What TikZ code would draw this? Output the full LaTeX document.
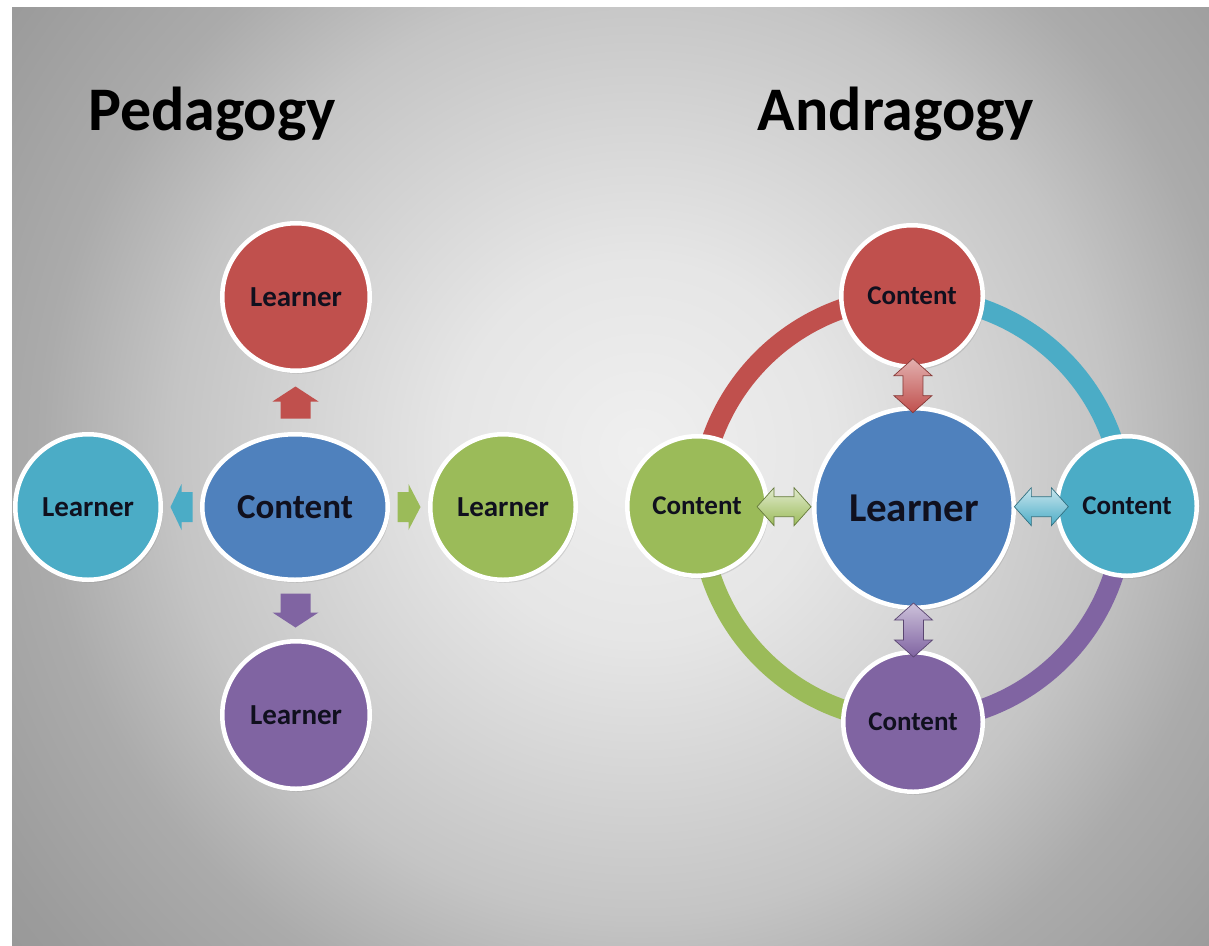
\documentclass[tikz,border=0pt]{standalone}
\usepackage{fontspec}
\setmainfont{Carlito}
\usetikzlibrary{calc,shadows,shapes.geometric}
\definecolor{ored}{HTML}{C0504D}
\definecolor{oblue}{HTML}{4F81BD}
\definecolor{ogreen}{HTML}{9BBB59}
\definecolor{ocyan}{HTML}{4BACC6}
\definecolor{opurple}{HTML}{8064A2}
\definecolor{txt}{HTML}{10101E}
\pgfdeclareradialshading{bgshade}{\pgfpoint{0bp}{0bp}}{color(0bp)=(black!6); color(6bp)=(black!10); color(14.6bp)=(black!23); color(18.7bp)=(black!33); color(23.7bp)=(black!39); color(25bp)=(black!40); color(50bp)=(black!40)}
\tikzset{
  pics/sarr/.style n args={2}{code={
    \path[pic actions] (-#1/2,-15) -- (#1/2-#2,-15) -- (#1/2-#2,-23) -- (#1/2,0)
      -- (#1/2-#2,23) -- (#1/2-#2,15) -- (-#1/2,15) -- cycle;}},
  pics/darr/.style n args={2}{code={
    \path[pic actions] (-#1/2,0) -- (-#1/2+#2,-19) -- (-#1/2+#2,-10) -- (#1/2-#2,-10)
      -- (#1/2-#2,-19) -- (#1/2,0) -- (#1/2-#2,19) -- (#1/2-#2,10) -- (-#1/2+#2,10)
      -- (-#1/2+#2,19) -- cycle;}},
}
\begin{document}
\begin{tikzpicture}[x=1pt,y=-1pt,
  bubble/.style={circle, draw=white, line width=4.5pt, inner sep=0pt, text=txt,
    drop shadow={opacity=0.25, shadow xshift=2pt, shadow yshift=-3pt}},
  title/.style={font=\fontsize{62}{62}\selectfont\bfseries, anchor=base, text=black},
  fsmall/.style={font=\fontsize{29}{29}\selectfont\bfseries},
  fsat/.style={font=\fontsize{27}{27}\selectfont\bfseries},
  ring/.style={line width=20pt},
  sa/.style={draw=none},
  da/.style={line width=0.7pt}]
\useasboundingbox (0,0) rectangle (1209,945);
\fill[white] (0,0) rectangle (1209,945);
\begin{scope}
  \clip (12,7) rectangle (1220,960);
  \shade[shading=bgshade] (-160,-350) rectangle (1440,1250);
\end{scope}

% titles
\node[title] (ped) at (212,130) {Pedagogy};
\node[title] (andr) at (896,130) {Andragogy};

% ---- Pedagogy ----
\node[bubble, ellipse, fill=oblue, minimum width=185.5pt, minimum height=145.5pt,
  font=\fontsize{35}{35}\selectfont\bfseries] (pc) at (295,507) {Content};
\node[bubble, fill=ored, minimum size=147.5pt, fsmall] (pt) at (296,297) {Learner};
\node[bubble, fill=ocyan, minimum size=145.5pt, fsmall] (pl) at (88,507) {Learner};
\node[bubble, fill=ogreen, minimum size=145.5pt, fsmall] (pr) at (503,507) {Learner};
\node[bubble, fill=opurple, minimum size=147.5pt, fsmall] (pb) at (296,715) {Learner};

\pic[sa, fill=ored, rotate=90] at ($(pc.north)!0.5!(pt.south)$) {sarr={32}{15}};
\pic[sa, fill=ocyan, rotate=180] at ($(pc.west)!0.5!(pl.east)$) {sarr={22}{11}};
\pic[sa, fill=ogreen] at ($(pc.east)!0.5!(pr.west)$) {sarr={23}{12}};
\pic[sa, fill=opurple, rotate=-90] at ($(pc.south)!0.5!(pb.north)$) {sarr={34}{15}};

% ---- Andragogy ----
\coordinate (rc) at (912,509);
\draw[ring, ored]    ($(rc)+(180:212)$) arc[start angle=180, end angle=270, radius=212];
\draw[ring, ocyan]   ($(rc)+(270:212)$) arc[start angle=270, end angle=360, radius=212];
\draw[ring, opurple] ($(rc)+(0:212)$)   arc[start angle=0,   end angle=90,  radius=212];
\draw[ring, ogreen]  ($(rc)+(90:212)$)  arc[start angle=90,  end angle=180, radius=212];

\node[bubble, fill=oblue, minimum size=199.5pt,
  font=\fontsize{41}{41}\selectfont\bfseries] (al) at (914,508) {Learner};
\node[bubble, fill=ored, minimum size=141.5pt, fsat] (at) at (912,296) {Content};
\node[bubble, fill=ogreen, minimum size=139.5pt, fsat] (agl) at (697,506) {Content};
\node[bubble, fill=ocyan, minimum size=139.5pt, fsat] (acr) at (1127,506) {Content};
\node[bubble, fill=opurple, minimum size=139.5pt, fsat] (apb) at (913,722) {Content};

\pic[da, draw=ored!70!black, top color=ored!45!white, bottom color=ored, rotate=90]
  at ($(at.south)!0.45!(al.north)$) {darr={54}{17}};
\pic[da, draw=ogreen!65!black, top color=ogreen!30!white, bottom color=ogreen]
  at ($(agl.east)!0.35!(al.west)$) {darr={54}{17}};
\pic[da, draw=ocyan!65!black, top color=ocyan!30!white, bottom color=ocyan]
  at ($(al.east)!0.65!(acr.west)$) {darr={54}{17}};
\pic[da, draw=opurple!70!black, top color=opurple!40!white, bottom color=opurple, rotate=90]
  at ($(al.south)!0.5!(apb.north)$) {darr={54}{17}};
\end{tikzpicture}
\end{document}
